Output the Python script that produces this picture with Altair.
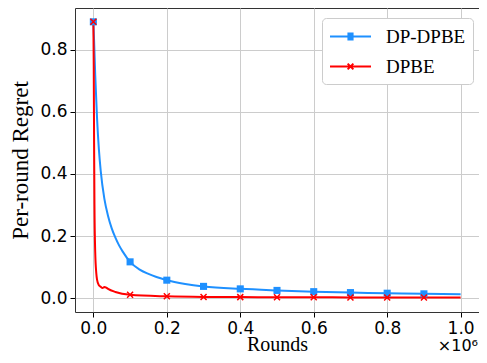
import altair as alt
import pandas as pd

# --- data ---
blue_rounds = [0, 2000, 5000, 10000, 15000, 20000, 30000, 40000, 50000, 60000, 70000, 80000,
               100000, 125000, 150000, 200000, 250000, 300000, 400000, 500000, 600000,
               700000, 800000, 900000, 1000000]
blue_regret = [0.89, 0.83, 0.72, 0.58, 0.48, 0.41, 0.32, 0.265, 0.225, 0.195, 0.17, 0.15,
               0.117, 0.093, 0.078, 0.058, 0.046, 0.038, 0.030, 0.025, 0.021,
               0.018, 0.016, 0.014, 0.013]

red_rounds = [0, 1000, 2000, 3000, 5000, 8000, 10000, 15000, 20000, 25000, 30000, 35000,
              40000, 60000, 100000, 200000, 300000, 400000, 500000, 600000, 700000,
              800000, 900000, 1000000]
red_regret = [0.89, 0.75, 0.5, 0.3, 0.15, 0.08, 0.06, 0.042, 0.037, 0.033, 0.036, 0.034,
              0.03, 0.02, 0.011, 0.006, 0.004, 0.0035, 0.003, 0.0028, 0.0025,
              0.0024, 0.0022, 0.002]

marker_rounds = [0, 100000, 200000, 300000, 400000, 500000, 600000, 700000, 800000, 900000]

series = ["DP-DPBE", "DPBE"]
colors = ["#1e90ff", "#ff0000"]
x_ticks = [0, 200000, 400000, 600000, 800000, 1000000]
y_ticks = [0.0, 0.2, 0.4, 0.6, 0.8]

blue = pd.DataFrame({"rounds": blue_rounds, "regret": blue_regret, "series": series[0]})
red = pd.DataFrame({"rounds": red_rounds, "regret": red_regret, "series": series[1]})
df = pd.concat([blue, red], ignore_index=True)
blue_mk = blue[blue["rounds"].isin(marker_rounds)]
red_mk = red[red["rounds"].isin(marker_rounds)]

W, H = 404, 304
serif = "Liberation Serif"
sans = "DejaVu Sans"

xs = alt.Scale(domain=[-50000, 1050000], nice=False, zero=False)
ys = alt.Scale(domain=[-0.0445, 0.9345], nice=False, zero=False)

x_enc = alt.X("rounds:Q", scale=xs, axis=alt.Axis(
    values=x_ticks, labelExpr="format(datum.value/1e6, '.1f')", title="Rounds",
    grid=True, gridColor="#cccccc", gridWidth=1, tickColor="#000", tickSize=5,
    domain=False, labelFont=sans, labelFontSize=17, labelColor="#000", labelPadding=3,
    titleFont=serif, titleFontSize=20, titleFontWeight="normal", titleColor="#000", titlePadding=-2))
y_enc = alt.Y("regret:Q", scale=ys, axis=alt.Axis(
    values=y_ticks, format=".1f", title="Per-round Regret",
    grid=True, gridColor="#cccccc", gridWidth=1, tickColor="#000", tickSize=5,
    domain=False, labelFont=sans, labelFontSize=17, labelColor="#000", labelPadding=3,
    titleFont=serif, titleFontSize=23, titleFontWeight="normal", titleColor="#000", titlePadding=7))

color_scale = alt.Scale(domain=series, range=colors)

# legend symbols: a line with a marker in its middle (square drawn as stacked strokes)
leg_sq = ("M-2,0H2"
          "M-0.3,-0.3H0.3M-0.3,-0.15H0.3M-0.3,0.15H0.3M-0.3,0.3H0.3")
leg_x = "M-2,0H2M-0.28,-0.28L0.28,0.28M-0.28,0.28L0.28,-0.28"

legend = alt.Legend(
    title=None, orient="none", legendX=247, legendY=10,
    fillColor="white", strokeColor="#cccccc", cornerRadius=4, padding=7,
    symbolSize=420, symbolStrokeWidth=2, symbolOffset=10,
    labelFont=serif, labelFontSize=19,
    labelColor="#000", labelOffset=24, rowPadding=8,
)

lines = alt.Chart(df).mark_line(strokeWidth=2, interpolate="monotone").encode(
    x=x_enc, y=y_enc,
    color=alt.Color("series:N", scale=color_scale, legend=legend),
    detail="series:N",
)

sq_markers = alt.Chart(blue_mk).mark_point(
    shape="square", size=50, filled=True, color=colors[0], opacity=1
).encode(x="rounds:Q", y="regret:Q")

x_markers = alt.Chart(red_mk).mark_point(
    shape="M-1,-1L1,1M-1,1L1,-1", size=36, filled=False, color=colors[1],
    strokeWidth=1.5, opacity=1
).encode(x="rounds:Q", y="regret:Q")

leg_layer = alt.Chart(df).transform_filter("false").mark_point(
    size=0, filled=False, opacity=1
).encode(
    x="rounds:Q", y="regret:Q",
    color=alt.Color("series:N", scale=color_scale, legend=legend),
    shape=alt.Shape("series:N", scale=alt.Scale(domain=series, range=[leg_sq, leg_x]), legend=legend),
)

offset = alt.Chart(pd.DataFrame({"t": ["×10⁶"]})).mark_text(
    align="right", baseline="middle", font=sans, fontSize=16, color="#000"
).encode(x=alt.value(W - 1), y=alt.value(H + 34), text="t:N")

chart = alt.layer(lines, sq_markers, x_markers, leg_layer, offset).properties(
    width=W, height=H,
    autosize=alt.AutoSizeParams(type="none"),
    padding={"left": 67, "top": 0, "right": 0, "bottom": 43},
).configure_view(stroke="#333333", strokeWidth=1)

chart.save("out.html", embed_options={"renderer": "svg", "actions": False})
